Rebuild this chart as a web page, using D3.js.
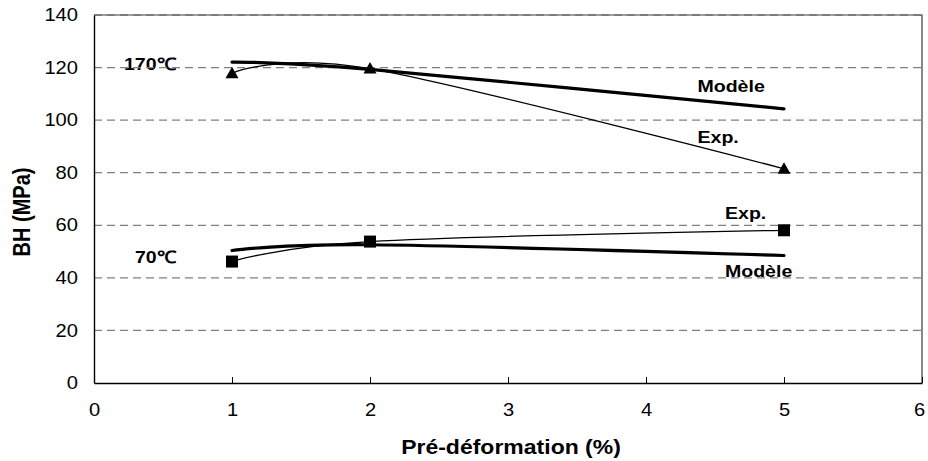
<!DOCTYPE html>
<html>
<head>
<meta charset="utf-8">
<script src="https://cdn.jsdelivr.net/npm/d3@7"></script>
<style>
  html, body { margin: 0; padding: 0; background: #fff; }
  svg { display: block; font-family: "Liberation Sans", Arial, sans-serif; }
</style>
</head>
<body>
<svg id="chart" width="928" height="461"></svg>
<script>
// ---- data ----
const xTicks = [0, 1, 2, 3, 4, 5, 6];
const yTicks = [0, 20, 40, 60, 80, 100, 120, 140];
const preDef = [1, 2, 5];
const exp170 = [117.8, 119.6, 81.5];
const model170 = [122.1, 119.3, 104.3];
const exp70 = [46.2, 53.8, 58.1];
const model70 = [50.4, 52.6, 48.5];
const xTitle = "Pré-déformation (%)";
const yTitle = "BH (MPa)";

// ---- layout ----
const W = 928, H = 461;
const L = 94, R = 922, T = 15, B = 383;
const SX = 1.15;
const svg = d3.select("#chart");

const x = d3.scaleLinear().domain([0, 6]).range([L, R]);
const y = d3.scaleLinear().domain([0, 140]).range([B, T]);

function label(txt, px, py, opts = {}) {
  return svg.append("text")
    .attr("transform", `translate(${px},${py}) scale(${SX},1)`)
    .attr("text-anchor", opts.anchor || "start")
    .style("font-size", (opts.size || 17) + "px")
    .style("font-weight", opts.weight || "bold")
    .attr("fill", "#000")
    .text(txt);
}

// annotation labels (drawn below grid)
label("170\u2103", 124, 70, {size: 17});
label("70\u2103", 135, 262.5, {size: 17});
label("Modèle", 697.5, 91.5, {size: 17});
label("Exp.", 697.5, 142.5, {size: 17});
label("Exp.", 725, 218.5, {size: 17});
label("Modèle", 725, 276.5, {size: 17});

// gridlines
svg.append("g").selectAll("line")
  .data(yTicks.filter(v => v > 0))
  .join("line")
  .attr("x1", L).attr("x2", R)
  .attr("y1", d => y(d)).attr("y2", d => y(d))
  .attr("stroke", "#808080")
  .attr("stroke-width", 1.2)
  .attr("stroke-dasharray", "8,5");

// frame top/right
svg.append("path")
  .attr("d", `M${L},${T}H${R}V${B}`)
  .attr("fill", "none")
  .attr("stroke", "#3a3a3a")
  .attr("stroke-width", 1.2);

// axes
const yAxis = svg.append("g")
  .attr("transform", `translate(${L},0)`)
  .call(d3.axisLeft(y).tickValues(yTicks).tickFormat(d3.format("d")).tickSize(0).tickSizeOuter(0).tickPadding(16));
yAxis.select(".domain").attr("stroke", "#000").attr("stroke-width", 1.4);
yAxis.selectAll(".tick text")
  .attr("x", null)
  .attr("transform", `translate(-16,0) scale(${SX},1)`)
  .style("font-size", "17.5px")
  .attr("fill", "#000");

const xAxis = svg.append("g")
  .attr("transform", `translate(0,${B})`)
  .call(d3.axisBottom(x).tickValues(xTicks).tickFormat(d3.format("d")).tickSize(-6).tickSizeOuter(0).tickPadding(21));
xAxis.select(".domain").attr("stroke", "#000").attr("stroke-width", 1.4);
xAxis.selectAll(".tick line").attr("stroke", "#000").attr("stroke-width", 1);
xAxis.selectAll(".tick text")
  .attr("transform", d => d === 6 ? `translate(-3,0) scale(${SX},1)` : `scale(${SX},1)`)
  .style("font-size", "17.5px")
  .attr("fill", "#000");

// axis titles
label(xTitle, 511, 454, {anchor: "middle", size: 20});
svg.append("text")
  .attr("transform", `translate(30,212) rotate(-90) scale(1,${SX})`)
  .attr("text-anchor", "middle")
  .style("font-size", "20px")
  .style("font-weight", "bold")
  .attr("fill", "#000")
  .text(yTitle);

// lines
const line = d3.line()
  .x(d => x(d[0])).y(d => y(d[1]))
  .curve(d3.curveCardinal.tension(0));
const zip = vals => preDef.map((p, i) => [p, vals[i]]);

function drawLine(vals, w) {
  svg.append("path")
    .datum(zip(vals))
    .attr("d", line)
    .attr("fill", "none")
    .attr("stroke", "#000")
    .attr("stroke-width", w)
    .attr("stroke-linecap", "round");
}
drawLine(model170, 3.2);
drawLine(model70, 3.2);
drawLine(exp170, 1.3);
drawLine(exp70, 1.3);

// markers
svg.append("g").selectAll("path")
  .data(zip(exp170))
  .join("path")
  .attr("transform", d => `translate(${x(d[0])},${y(d[1])})`)
  .attr("d", "M0,-6.5L6.5,5L-6.5,5Z")
  .attr("fill", "#000");

svg.append("g").selectAll("rect")
  .data(zip(exp70))
  .join("rect")
  .attr("x", d => x(d[0]) - 6)
  .attr("y", d => y(d[1]) - 6)
  .attr("width", 12).attr("height", 12)
  .attr("fill", "#000");
</script>
</body>
</html>
